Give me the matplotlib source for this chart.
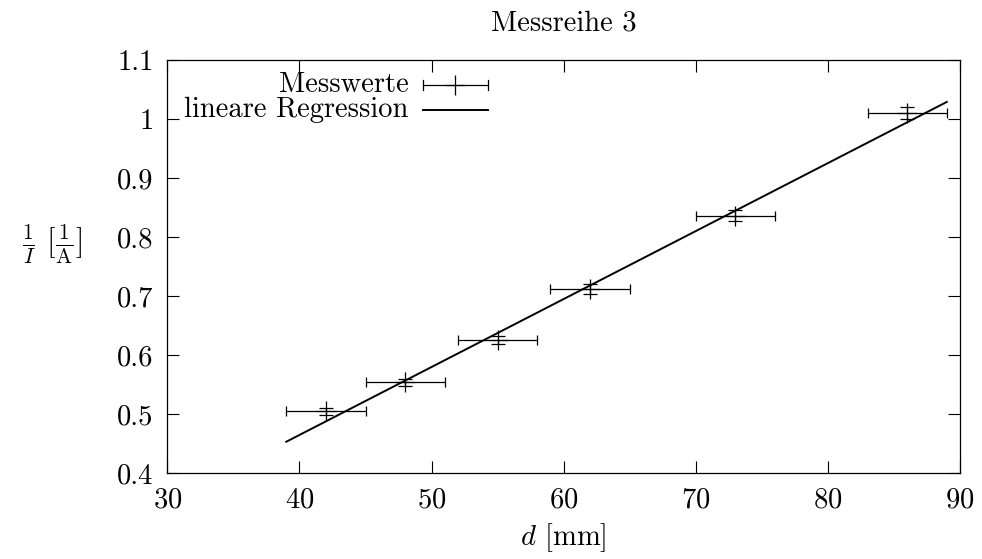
import matplotlib
matplotlib.use("Agg")
import matplotlib.pyplot as plt
from matplotlib.lines import Line2D

plt.rcParams['font.family'] = 'serif'
plt.rcParams['font.serif'] = ['cmr10']
plt.rcParams['mathtext.fontset'] = 'cm'
plt.rcParams['axes.formatter.use_mathtext'] = True
plt.rcParams['font.size'] = 20.6

# Messreihe 3: Abstand d [mm] und Kehrwert des Stroms 1/I [1/A]
d = [42, 48, 55, 62, 73, 86]
d_err = [3, 3, 3, 3, 3, 3]
inv_I = [0.505, 0.554, 0.625, 0.712, 0.836, 1.010]
inv_I_err = [0.006, 0.006, 0.007, 0.008, 0.009, 0.010]

# lineare Regression
slope = 0.01152
intercept = 0.0037
fit_range = [39, 89]

xticks = [30, 40, 50, 60, 70, 80, 90]
yticks = [0.4, 0.5, 0.6, 0.7, 0.8, 0.9, 1.0, 1.1]
yticklabels = ["0.4", "0.5", "0.6", "0.7", "0.8", "0.9", "1", "1.1"]

fig = plt.figure(figsize=(9.82, 5.59), dpi=100)
ax = fig.add_axes([0.1704, 0.1538, 0.8072, 0.7388])

fit_y = [slope * x + intercept for x in fit_range]
ax.plot(fit_range, fit_y, color='black', lw=1.4)

# x-Fehlerbalken
ax.errorbar(d, inv_I, xerr=d_err, fmt='none', ecolor='black', elinewidth=0.9,
            capsize=3.8, capthick=0.9)
# y-Fehlerbalken und Punkte
ax.errorbar(d, inv_I, yerr=inv_I_err, fmt='+', color='black', ms=14, mew=0.9,
            ecolor='black', elinewidth=0.9, capsize=5, capthick=0.9)

ax.set_xlim(30, 90)
ax.set_ylim(0.4, 1.1)
ax.set_xticks(xticks)
ax.set_yticks(yticks)
ax.set_yticklabels(yticklabels)
ax.tick_params(direction='in', length=8.5, width=0.8, top=True, right=True, pad=10)
for s in ax.spines.values():
    s.set_linewidth(0.9)

ax.set_title("Messreihe 3", pad=21, fontsize=20.6)
ax.set_xlabel(r"$d$ [mm]", labelpad=6)
ax.set_ylabel(r"$\frac{1}{I}$ [$\frac{1}{\mathrm{A}}$]", rotation=0, labelpad=0,
              fontsize=22)
ax.yaxis.set_label_coords(-0.145, 0.5)

# Legende (Text rechtsbuendig, Symbol rechts daneben)
tr = ax.transAxes
ax.text(0.304, 0.939, "Messwerte", transform=tr, ha='right', va='center')
ax.text(0.304, 0.879, "lineare Regression", transform=tr, ha='right', va='center')
ax.add_line(Line2D([0.322, 0.404], [0.939, 0.939], transform=tr, color='black', lw=0.9))
ax.add_line(Line2D([0.322, 0.322], [0.927, 0.951], transform=tr, color='black', lw=0.9))
ax.add_line(Line2D([0.404, 0.404], [0.927, 0.951], transform=tr, color='black', lw=0.9))
ax.add_line(Line2D([0.363], [0.939], transform=tr, color='black', marker='+', ms=14, mew=0.9))
ax.add_line(Line2D([0.322, 0.404], [0.879, 0.879], transform=tr, color='black', lw=1.4))

fig.savefig("out.png", dpi=100)
